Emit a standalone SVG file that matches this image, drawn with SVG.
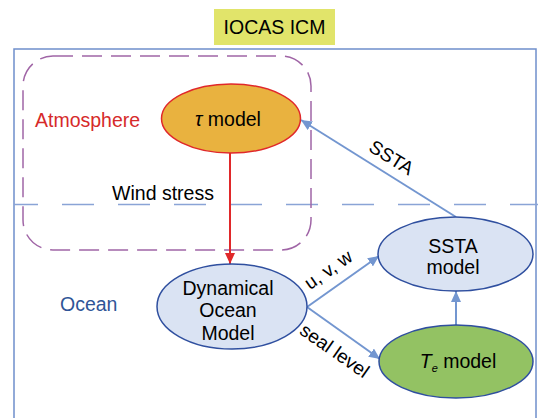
<svg xmlns="http://www.w3.org/2000/svg" width="538" height="418" viewBox="0 0 538 418">
<style>
text{font-family:"Liberation Sans",Arial,sans-serif;font-size:19.5px;fill:#000}
.lbl{font-size:19px}
.blue{fill:#dae3f3;stroke:#2f4f9f;stroke-width:1.5}
.conn{stroke:#7396d0;stroke-width:2;fill:none}
</style>
<defs>
<marker id="ab" viewBox="0 0 11 10" refX="11" refY="5" markerWidth="11" markerHeight="10" orient="auto" markerUnits="userSpaceOnUse">
<path d="M0,0 L11,5 L0,10 z" fill="#7396d0"/>
</marker>
<marker id="ar" viewBox="0 0 11 10" refX="11" refY="5" markerWidth="11" markerHeight="10" orient="auto" markerUnits="userSpaceOnUse">
<path d="M0,0 L11,5 L0,10 z" fill="#e0282a"/>
</marker>
</defs>
<rect width="538" height="418" fill="#fff"/>
<g id="title">
<rect x="214" y="9" width="121" height="36" fill="#e1e46a"/>
<text x="274.5" y="34" text-anchor="middle">IOCAS ICM</text>
</g>
<g id="frame">
<rect x="14" y="49" width="522" height="400" fill="none" stroke="#6f8fcb" stroke-width="1.5"/>
<line x1="14" y1="204.5" x2="538" y2="204.5" stroke="#8aa4d6" stroke-width="1.5" stroke-dasharray="32 24" stroke-dashoffset="8"/>
<rect x="23" y="56" width="288" height="194" rx="30" fill="none" stroke="#a065a6" stroke-width="1.5" stroke-dasharray="20 9"/>
<text x="35" y="127" style="fill:#d62a2a">Atmosphere</text>
<text x="60" y="311" style="fill:#2f5597">Ocean</text>
</g>
<g id="connectors">
<line x1="230" y1="153" x2="230" y2="264" stroke="#e0282a" stroke-width="2" marker-end="url(#ar)"/>
<line class="conn" x1="456" y1="217" x2="301" y2="120" marker-end="url(#ab)"/>
<line class="conn" x1="307" y1="307" x2="379" y2="256" marker-end="url(#ab)"/>
<line class="conn" x1="307" y1="307" x2="380" y2="359" marker-end="url(#ab)"/>
<line class="conn" x1="456" y1="325" x2="456" y2="291" marker-end="url(#ab)"/>
<text x="163" y="200" text-anchor="middle">Wind stress</text>
<text class="lbl" transform="translate(388,163) rotate(32)" text-anchor="middle">SSTA</text>
<text class="lbl" transform="translate(332,275) rotate(-35)" text-anchor="middle">u, v, w</text>
<text class="lbl" transform="translate(331,356) rotate(35)" text-anchor="middle">seal level</text>
</g>
<g id="tau">
<ellipse cx="231" cy="118.5" rx="69.5" ry="34.5" fill="#e9b23f" stroke="#e0282a" stroke-width="1.5"/>
<text x="228" y="126" text-anchor="middle"><tspan font-style="italic">τ</tspan> model</text>
</g>
<g id="ocean">
<ellipse class="blue" cx="232" cy="306.5" rx="75" ry="42.5"/>
<text x="228" y="295" text-anchor="middle">Dynamical</text>
<text x="228" y="317" text-anchor="middle">Ocean</text>
<text x="228" y="340" text-anchor="middle">Model</text>
</g>
<g id="ssta">
<ellipse class="blue" cx="455.5" cy="254" rx="77.5" ry="37"/>
<text x="453" y="253" text-anchor="middle">SSTA</text>
<text x="453" y="274" text-anchor="middle">model</text>
</g>
<g id="te">
<ellipse cx="456" cy="361.5" rx="77" ry="36.5" fill="#93c263" stroke="#2f4f9f" stroke-width="1.5"/>
<text x="458" y="368" text-anchor="middle"><tspan font-style="italic">T</tspan><tspan font-style="italic" font-size="11" dy="4">e</tspan><tspan dy="-4"> model</tspan></text>
</g>
</svg>
